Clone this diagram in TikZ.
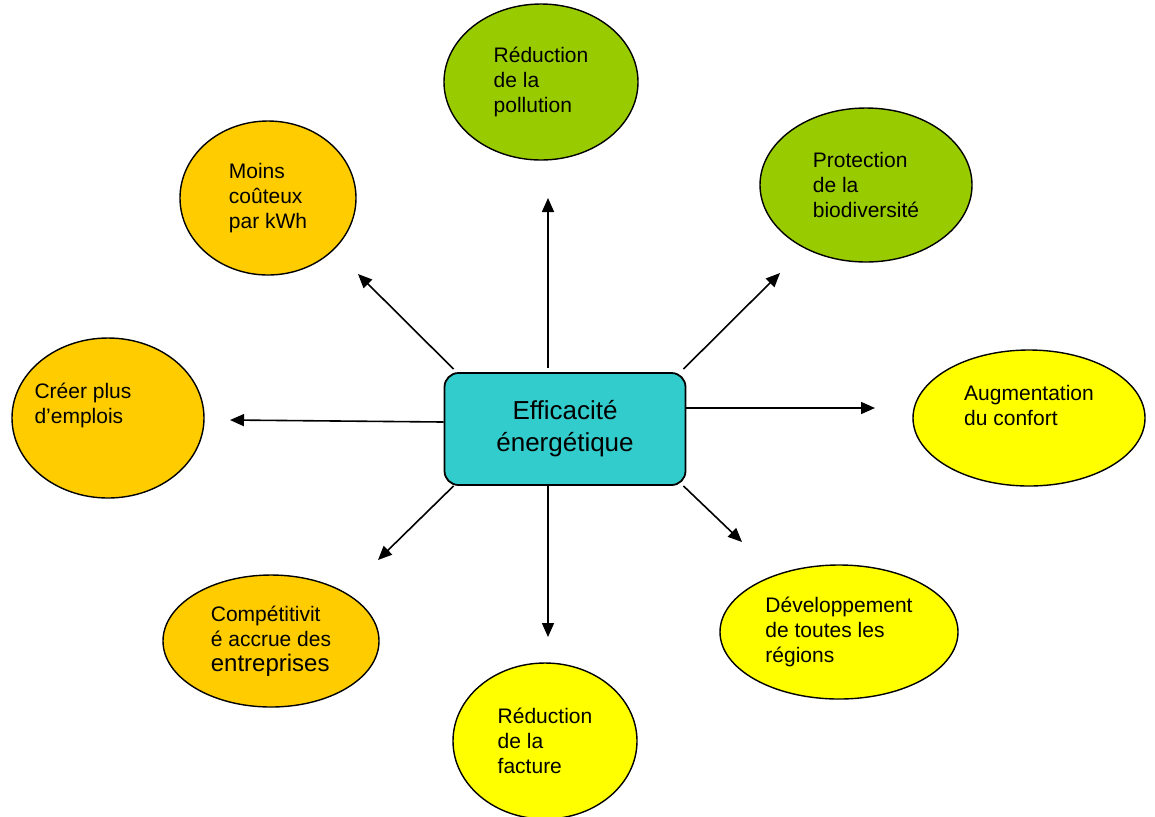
\documentclass[tikz,border=0pt]{standalone}
\usepackage{fontspec}
\setmainfont{Liberation Sans}
\usetikzlibrary{positioning,arrows.meta,shapes.geometric}

\definecolor{vert}{HTML}{99CC00}
\definecolor{orange}{HTML}{FFCC00}
\definecolor{jaune}{HTML}{FFFF00}
\definecolor{turquoise}{HTML}{33CCCC}

\begin{document}
\begin{tikzpicture}[x=0.5pt, y=-0.5pt,
  >={Triangle[length=7pt, width=6pt]},
  effet/.style={draw, line width=0.7pt, ellipse, inner sep=0pt, align=left,
                font=\fontsize{10.5}{12.5}\selectfont},
  fleche/.style={->, line width=0.8pt}]
  \useasboundingbox (0,0) rectangle (1155,816);

  \node[draw, line width=0.9pt, fill=turquoise, rounded corners=7pt, align=center,
        minimum width=120.5pt, minimum height=56pt,
        font=\fontsize{13}{16}\selectfont] (eff) at (565,429)
        {Efficacité\\énergétique};

  \node[effet, fill=vert, minimum width=97pt, minimum height=78pt] (pollu) at (541,82)
        {Réduction\\de la\\pollution};
  \node[effet, fill=vert, minimum width=106pt, minimum height=77pt] (biodiv) at (866,185)
        {Protection\\de la\\biodiversité};
  \node[effet, fill=orange, minimum width=88pt, minimum height=77pt] (cout) at (268,198)
        {Moins\\coûteux\\par kWh};
  \node[effet, fill=orange, minimum width=96pt, minimum height=80pt,
        label={[align=left, font=\fontsize{10.5}{12.5}\selectfont,
                xshift=-12.5pt, yshift=6.25pt]center:{Créer plus\\d’emplois}}]
        (emploi) at (108,418) {};
  \node[effet, fill=jaune, minimum width=116pt, minimum height=68pt] (confort) at (1029,418)
        {Augmentation\\du confort\\\mbox{}};
  \node[effet, fill=orange, minimum width=108pt, minimum height=66pt] (compet) at (271,641)
        {Compétitivit\\é accrue des\\{\fontsize{12}{13}\selectfont entreprises}};
  \node[effet, fill=jaune, minimum width=119pt, minimum height=67pt] (region) at (839,632)
        {Développement\\de toutes les\\régions};
  \node[effet, fill=jaune, minimum width=92pt, minimum height=78pt] (facture) at (545,741)
        {Réduction\\de la\\facture};

  % free arrow ends
  \coordinate (hN) at (548,198);
  \coordinate (hS) at (548,637);
  \coordinate (hNO) at (358,274);
  \coordinate (hNE) at (780,273);
  \coordinate (hO) at (230,420);
  \coordinate (hE) at (875,408);
  \coordinate (hSO) at (378,560);
  \coordinate (hSE) at (742,542);

  \draw[fleche] ([yshift=2pt]eff.north -| hN) -- (hN);
  \draw[fleche] (eff.south -| hS) -- (hS);
  \draw[fleche] ([xshift=5pt,yshift=1.5pt]eff.north west) -- (hNO);
  \draw[fleche] ([xshift=-1.5pt,yshift=1.5pt]eff.north east) -- (hNE);
  \draw[fleche] ([yshift=3.5pt]eff.west) -- (hO);
  \draw[fleche] ([yshift=10.5pt]eff.east) -- (hE);
  \draw[fleche] ([xshift=5pt]eff.south west) -- (hSO);
  \draw[fleche] ([xshift=-1.5pt]eff.south east) -- (hSE);
\end{tikzpicture}
\end{document}
